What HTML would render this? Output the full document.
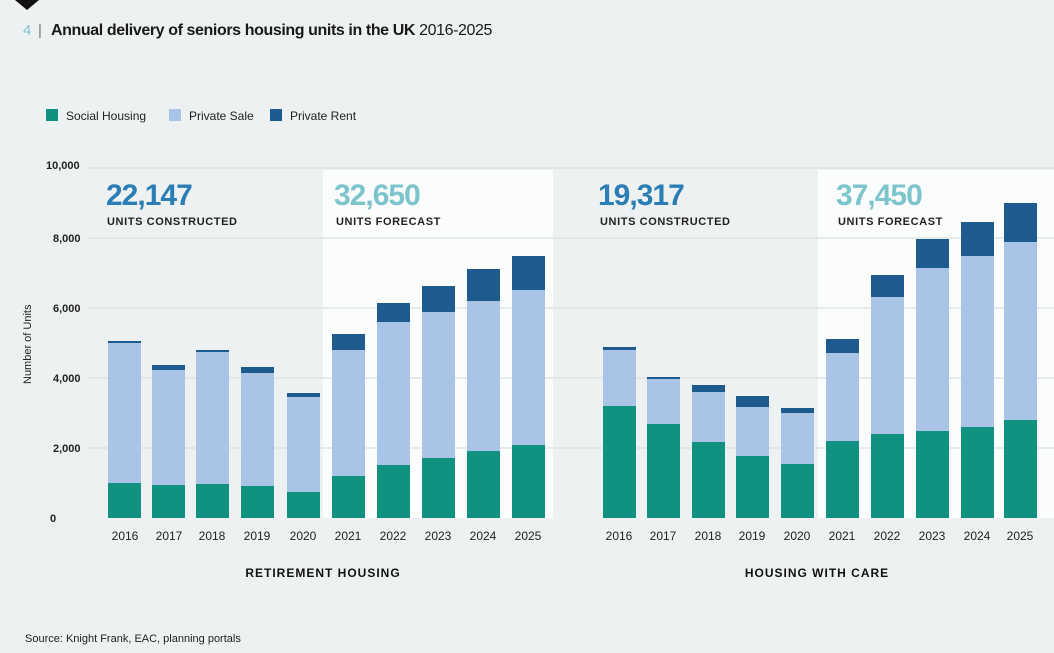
<!DOCTYPE html>
<html><head><meta charset="utf-8"><style>
body{margin:0;background:#eef1f1;}
svg{display:block;font-family:"Liberation Sans",sans-serif;}
</style></head><body>
<svg width="1054" height="653" viewBox="0 0 1054 653">
<rect width="1054" height="653" fill="#eef1f1"/>
<polygon points="15,0 39,0 27,10" fill="#111"/>
<text x="23" y="35" font-size="15" fill="#7fc3cf">4</text>
<text x="38" y="35" font-size="15" fill="#777">|</text>
<text x="51" y="35" font-size="16" font-weight="bold" fill="#1a1a1a" letter-spacing="-0.4">Annual delivery of seniors housing units in the UK <tspan font-weight="normal">2016-2025</tspan></text>
<rect x="46" y="109" width="12" height="12" fill="#11917f"/><text x="66" y="120" font-size="12" fill="#222">Social Housing</text>
<rect x="169" y="109" width="12" height="12" fill="#a9c4e6"/><text x="189" y="120" font-size="12" fill="#222">Private Sale</text>
<rect x="270" y="109" width="12" height="12" fill="#1d5a8e"/><text x="290" y="120" font-size="12" fill="#222">Private Rent</text>
<rect x="323" y="170" width="230" height="348" fill="#fbfcfc"/>
<rect x="818" y="170" width="236" height="348" fill="#fbfcfc"/>
<g stroke="#d6dada" stroke-width="1">
<line x1="88" y1="168" x2="1054" y2="168"/><line x1="88" y1="238" x2="1054" y2="238"/><line x1="88" y1="308" x2="1054" y2="308"/><line x1="88" y1="378" x2="1054" y2="378"/><line x1="88" y1="448" x2="1054" y2="448"/>
</g>
<g font-size="11" font-weight="bold" fill="#222">
<text x="46" y="169">10,000</text><text x="53" y="242">8,000</text><text x="53" y="312">6,000</text><text x="53" y="382">4,000</text><text x="53" y="452">2,000</text><text x="50" y="522">0</text>
</g>
<text transform="translate(31,384) rotate(-90)" font-size="11" fill="#222">Number of Units</text>
<g font-weight="bold" font-size="30" letter-spacing="-1">
<text x="106" y="205" fill="#2a7eb5">22,147</text>
<text x="334" y="205" fill="#7cc5cd">32,650</text>
<text x="598" y="205" fill="#2a7eb5">19,317</text>
<text x="836" y="205" fill="#7cc5cd">37,450</text>
</g>
<g font-weight="bold" font-size="11" fill="#222" letter-spacing="0.6">
<text x="107" y="225">UNITS CONSTRUCTED</text><text x="336" y="225">UNITS FORECAST</text>
<text x="600" y="225">UNITS CONSTRUCTED</text><text x="838" y="225">UNITS FORECAST</text>
</g>
<g id="bars"></g>
<g font-size="12" fill="#222" text-anchor="middle" id="years"></g>
<text x="323" y="577" font-size="12" font-weight="bold" text-anchor="middle" letter-spacing="1" fill="#111">RETIREMENT HOUSING</text>
<text x="817" y="577" font-size="12" font-weight="bold" text-anchor="middle" letter-spacing="1" fill="#111">HOUSING WITH CARE</text>
<text x="25" y="642" font-size="11" fill="#222">Source: Knight Frank, EAC, planning portals</text>
<!-- bars -->
<g>
<!-- left -->
<rect x="108" y="341" width="33" height="177" fill="#1d5a8e"/><rect x="108" y="343" width="33" height="140" fill="#a9c4e6"/><rect x="108" y="483" width="33" height="35" fill="#11917f"/>
<rect x="152" y="365" width="33" height="153" fill="#1d5a8e"/><rect x="152" y="370" width="33" height="115" fill="#a9c4e6"/><rect x="152" y="485" width="33" height="33" fill="#11917f"/>
<rect x="196" y="350" width="33" height="168" fill="#1d5a8e"/><rect x="196" y="352" width="33" height="132" fill="#a9c4e6"/><rect x="196" y="484" width="33" height="34" fill="#11917f"/>
<rect x="241" y="367" width="33" height="151" fill="#1d5a8e"/><rect x="241" y="373" width="33" height="113" fill="#a9c4e6"/><rect x="241" y="486" width="33" height="32" fill="#11917f"/>
<rect x="287" y="393" width="33" height="125" fill="#1d5a8e"/><rect x="287" y="397" width="33" height="95" fill="#a9c4e6"/><rect x="287" y="492" width="33" height="26" fill="#11917f"/>
<rect x="332" y="334" width="33" height="184" fill="#1d5a8e"/><rect x="332" y="350" width="33" height="126" fill="#a9c4e6"/><rect x="332" y="476" width="33" height="42" fill="#11917f"/>
<rect x="377" y="303" width="33" height="215" fill="#1d5a8e"/><rect x="377" y="322" width="33" height="143" fill="#a9c4e6"/><rect x="377" y="465" width="33" height="53" fill="#11917f"/>
<rect x="422" y="286" width="33" height="232" fill="#1d5a8e"/><rect x="422" y="312" width="33" height="146" fill="#a9c4e6"/><rect x="422" y="458" width="33" height="60" fill="#11917f"/>
<rect x="467" y="269" width="33" height="249" fill="#1d5a8e"/><rect x="467" y="301" width="33" height="150" fill="#a9c4e6"/><rect x="467" y="451" width="33" height="67" fill="#11917f"/>
<rect x="512" y="256" width="33" height="262" fill="#1d5a8e"/><rect x="512" y="290" width="33" height="155" fill="#a9c4e6"/><rect x="512" y="445" width="33" height="73" fill="#11917f"/>
<!-- right -->
<rect x="603" y="347" width="33" height="171" fill="#1d5a8e"/><rect x="603" y="350" width="33" height="56" fill="#a9c4e6"/><rect x="603" y="406" width="33" height="112" fill="#11917f"/>
<rect x="647" y="377" width="33" height="141" fill="#1d5a8e"/><rect x="647" y="379" width="33" height="45" fill="#a9c4e6"/><rect x="647" y="424" width="33" height="94" fill="#11917f"/>
<rect x="692" y="385" width="33" height="133" fill="#1d5a8e"/><rect x="692" y="392" width="33" height="50" fill="#a9c4e6"/><rect x="692" y="442" width="33" height="76" fill="#11917f"/>
<rect x="736" y="396" width="33" height="122" fill="#1d5a8e"/><rect x="736" y="407" width="33" height="49" fill="#a9c4e6"/><rect x="736" y="456" width="33" height="62" fill="#11917f"/>
<rect x="781" y="408" width="33" height="110" fill="#1d5a8e"/><rect x="781" y="413" width="33" height="51" fill="#a9c4e6"/><rect x="781" y="464" width="33" height="54" fill="#11917f"/>
<rect x="826" y="339" width="33" height="179" fill="#1d5a8e"/><rect x="826" y="353" width="33" height="88" fill="#a9c4e6"/><rect x="826" y="441" width="33" height="77" fill="#11917f"/>
<rect x="871" y="275" width="33" height="243" fill="#1d5a8e"/><rect x="871" y="297" width="33" height="137" fill="#a9c4e6"/><rect x="871" y="434" width="33" height="84" fill="#11917f"/>
<rect x="916" y="239" width="33" height="279" fill="#1d5a8e"/><rect x="916" y="268" width="33" height="163" fill="#a9c4e6"/><rect x="916" y="431" width="33" height="87" fill="#11917f"/>
<rect x="961" y="222" width="33" height="296" fill="#1d5a8e"/><rect x="961" y="256" width="33" height="171" fill="#a9c4e6"/><rect x="961" y="427" width="33" height="91" fill="#11917f"/>
<rect x="1004" y="203" width="33" height="315" fill="#1d5a8e"/><rect x="1004" y="242" width="33" height="178" fill="#a9c4e6"/><rect x="1004" y="420" width="33" height="98" fill="#11917f"/>
</g>
<g font-size="12" fill="#222" text-anchor="middle">
<text x="125" y="540">2016</text><text x="169" y="540">2017</text><text x="212" y="540">2018</text><text x="257" y="540">2019</text><text x="303" y="540">2020</text><text x="348" y="540">2021</text><text x="393" y="540">2022</text><text x="438" y="540">2023</text><text x="483" y="540">2024</text><text x="528" y="540">2025</text>
<text x="619" y="540">2016</text><text x="663" y="540">2017</text><text x="708" y="540">2018</text><text x="752" y="540">2019</text><text x="797" y="540">2020</text><text x="842" y="540">2021</text><text x="887" y="540">2022</text><text x="932" y="540">2023</text><text x="977" y="540">2024</text><text x="1020" y="540">2025</text>
</g>
</svg>
</body></html>
